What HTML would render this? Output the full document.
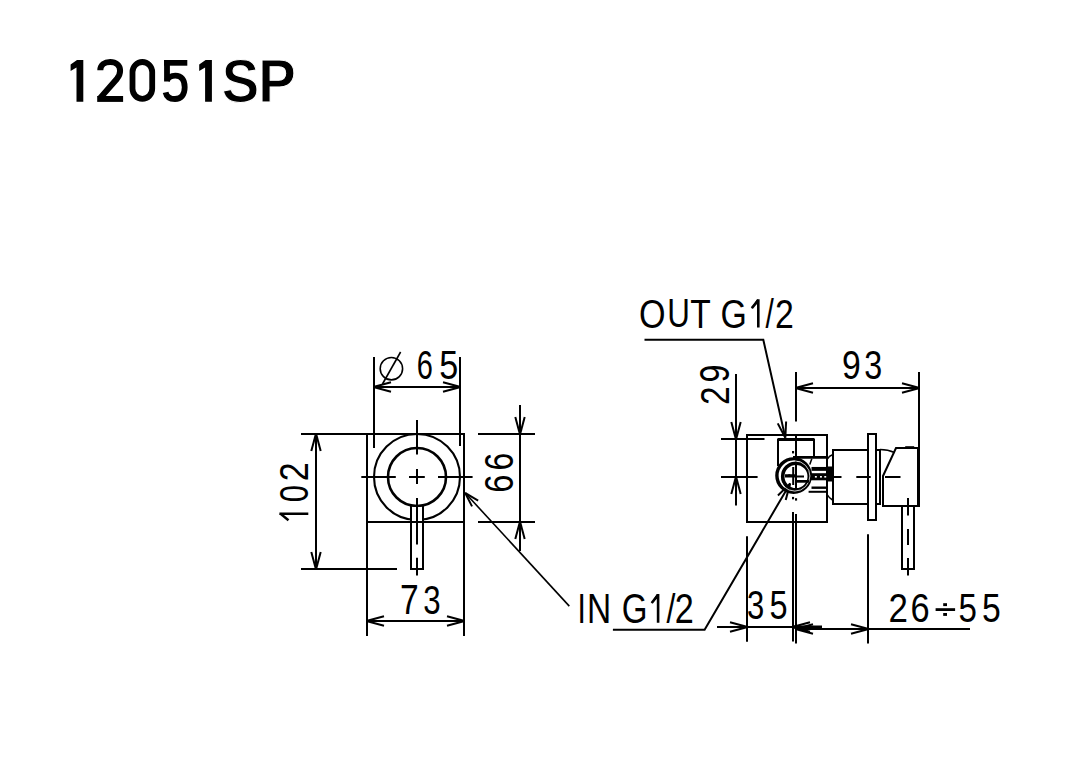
<!DOCTYPE html>
<html><head><meta charset="utf-8"><style>
html,body{margin:0;padding:0;background:#fff;width:1077px;height:765px;overflow:hidden}
svg{display:block}
text{font-family:"Liberation Sans",sans-serif;font-size:100px;fill:#000}
</style></head><body>
<svg width="1077" height="765" viewBox="0 0 1077 765">
<g stroke="#000" fill="#000" stroke-linecap="butt">
<path d="M70.6,64.5 L77,60 L83.3,60 L83.3,101.8 L76.5,101.8 L76.5,67.5 L70.6,71 Z" stroke="none"/>
<path d="M100.3,70.3 C100.3,64.6 104.5,62.1 110.15,62.1 C115.8,62.1 120.1,65.2 120.1,70.8 C120.1,74.2 119.1,76.1 117,78.7 L99.6,98.6" fill="none" stroke-width="6"/>
<rect x="97.2" y="96" width="25.9" height="5.9" stroke="none"/>
<rect x="132.5" y="62" width="19.7" height="36.8" rx="9.85" ry="10" fill="none" stroke-width="5.8"/>
<rect x="164.1" y="60" width="23.2" height="5.7" stroke="none"/><rect x="164.1" y="60" width="5.8" height="21.5" stroke="none"/>
<path d="M166.9,80.5 C168.3,77.3 171.3,75.6 175.3,75.6 C181.3,75.6 184.7,79.8 184.7,87.3 C184.7,95 180.9,99 175,99 C169.6,99 166.5,96.4 165.6,92.3" fill="none" stroke-width="5.8"/>
<path d="M199.2,64.5 L205.6,60 L211.9,60 L211.9,101.8 L205.1,101.8 L205.1,67.5 L199.2,71 Z" stroke="none"/>
<text transform="matrix(0.56082 0 0 0.61581 221.684 101.599)" font-weight="bold" stroke="#fff" stroke-width="1.700">S</text>
<text transform="matrix(0.56369 0 0 0.61629 258.329 101.800)" font-weight="bold" stroke="#fff" stroke-width="1.695">P</text>
<line x1="301" y1="434" x2="464" y2="434" stroke-width="2"/>
<line x1="367" y1="433" x2="367" y2="636" stroke-width="2"/>
<line x1="464" y1="433" x2="464" y2="636" stroke-width="2"/>
<line x1="367" y1="522" x2="464" y2="522" stroke-width="2"/>
<line x1="301" y1="569" x2="397" y2="569" stroke-width="2"/>
<line x1="316" y1="434" x2="316" y2="569" stroke-width="2"/>
<line x1="320.7" y1="451" x2="316" y2="433.4" stroke-width="2"/>
<line x1="311.3" y1="451" x2="316" y2="433.4" stroke-width="2"/>
<line x1="311.3" y1="552" x2="316" y2="569.6" stroke-width="2"/>
<line x1="320.7" y1="552" x2="316" y2="569.6" stroke-width="2"/>
<text transform="matrix(0 -0.34024 0.41390 0 308.300 481.211)" stroke="none">2</text>
<text transform="matrix(0 -0.31170 0.40819 0 307.901 502.318)" stroke="none">0</text>
<path d="M279.4,512.4 L308.3,512.4 L308.3,514.9 L279.4,514.9 Z M279.9,513.6 L287.4,520.7" stroke="none"/>
<line x1="280.3" y1="513.6" x2="288.5" y2="520.3" stroke-width="2.5"/>
<line x1="374" y1="357" x2="374" y2="448" stroke-width="2"/>
<line x1="460" y1="357" x2="460" y2="446" stroke-width="2"/>
<line x1="374" y1="387" x2="460" y2="387" stroke-width="2"/>
<line x1="391" y1="382.3" x2="373.4" y2="387" stroke-width="2"/>
<line x1="391" y1="391.7" x2="373.4" y2="387" stroke-width="2"/>
<line x1="443" y1="391.7" x2="460.6" y2="387" stroke-width="2"/>
<line x1="443" y1="382.3" x2="460.6" y2="387" stroke-width="2"/>
<circle cx="391.4" cy="368.7" r="11.2" fill="none" stroke-width="1.6"/>
<line x1="400.6" y1="352" x2="382.5" y2="384" stroke-width="1.6"/>
<text transform="matrix(0.29040 0 0 0.40254 416.825 379.407)" stroke="none">6</text>
<text transform="matrix(0.34168 0 0 0.40129 439.232 379.408)" stroke="none">5</text>
<circle cx="417" cy="477" r="43" fill="none" stroke-width="2.1"/>
<circle cx="417" cy="477" r="29" fill="none" stroke-width="2.6"/>
<line x1="361.3" y1="477" x2="395.8" y2="477" stroke-width="2"/>
<line x1="409" y1="477" x2="424.8" y2="477" stroke-width="2"/>
<line x1="438" y1="477" x2="472.6" y2="477" stroke-width="2"/>
<line x1="417" y1="420" x2="417" y2="454.5" stroke-width="2"/>
<line x1="417" y1="469" x2="417" y2="484" stroke-width="2"/>
<line x1="417" y1="498" x2="417" y2="544.4" stroke-width="2"/>
<line x1="417" y1="557.8" x2="417" y2="575.5" stroke-width="2"/>
<rect x="412" y="507" width="10" height="14" fill="#fff" stroke="none"/>
<line x1="412" y1="522" x2="422" y2="522" stroke-width="2"/>
<line x1="417" y1="498" x2="417" y2="522" stroke-width="2"/>
<polyline points="411,505 411,569 423,569 423,505" fill="none" stroke-width="2"/>
<line x1="367" y1="621" x2="464" y2="621" stroke-width="2"/>
<line x1="384" y1="616.3" x2="366.4" y2="621" stroke-width="2"/>
<line x1="384" y1="625.7" x2="366.4" y2="621" stroke-width="2"/>
<line x1="447" y1="625.7" x2="464.6" y2="621" stroke-width="2"/>
<line x1="447" y1="616.3" x2="464.6" y2="621" stroke-width="2"/>
<text transform="matrix(0.33657 0 0 0.42007 400.074 614.000)" stroke="none">7</text>
<text transform="matrix(0.31216 0 0 0.41525 423.311 613.594)" stroke="none">3</text>
<line x1="478" y1="434" x2="535" y2="434" stroke-width="2"/>
<line x1="478" y1="522" x2="535" y2="522" stroke-width="2"/>
<line x1="520" y1="405" x2="520" y2="551" stroke-width="2"/>
<line x1="515.3" y1="417" x2="520" y2="434.6" stroke-width="2"/>
<line x1="524.7" y1="417" x2="520" y2="434.6" stroke-width="2"/>
<line x1="524.7" y1="539" x2="520" y2="521.4" stroke-width="2"/>
<line x1="515.3" y1="539" x2="520" y2="521.4" stroke-width="2"/>
<text transform="matrix(0 -0.32725 0.41525 0 512.594 492.862)" stroke="none">6</text>
<text transform="matrix(0 -0.31858 0.41525 0 512.594 470.518)" stroke="none">6</text>
<line x1="465.5" y1="493.3" x2="569.3" y2="606.1" stroke-width="1.6"/>
<line x1="478.149" y1="500.624" x2="465.089" y2="492.863" stroke-width="2"/>
<line x1="472.029" y1="506.377" x2="465.089" y2="492.863" stroke-width="2"/>
<text transform="matrix(0.30023 0 0 0.42152 577.529 622.900)" stroke="none">I</text>
<text transform="matrix(0.33477 0 0 0.42152 587.054 622.900)" stroke="none">N</text>
<text transform="matrix(0.33087 0 0 0.41949 621.636 622.790)" stroke="none">G</text>
<path d="M656.8,594.1 L659.4,594.1 L659.4,622.7 L656.8,622.7 L656.8,598.676 L650.8,603.538 Z" stroke="none" fill="#000"/>
<line x1="658.1" y1="594.9" x2="651.7" y2="602.966" stroke-width="2.6" stroke-linecap="butt"/>
<text transform="matrix(0.32034 0 0 0.41532 666.400 623.094)" stroke="none">/</text>
<text transform="matrix(0.34243 0 0 0.42106 674.778 622.900)" stroke="none">2</text>
<text transform="matrix(0.34133 0 0 0.40960 638.883 327.500)" stroke="none">O</text>
<text transform="matrix(0.31345 0 0 0.41275 667.282 327.497)" stroke="none">U</text>
<text transform="matrix(0.33603 0 0 0.41134 690.245 327.600)" stroke="none">T</text>
<text transform="matrix(0.33853 0 0 0.40960 720.397 327.500)" stroke="none">G</text>
<path d="M757,299.3 L759.6,299.3 L759.6,327.6 L757,327.6 L757,303.828 L750.9,308.639 Z" stroke="none" fill="#000"/>
<line x1="758.3" y1="300.1" x2="751.8" y2="308.073" stroke-width="2.6" stroke-linecap="butt"/>
<text transform="matrix(0.29874 0 0 0.40579 765.500 327.904)" stroke="none">/</text>
<text transform="matrix(0.33804 0 0 0.41103 774.900 327.600)" stroke="none">2</text>
<polyline points="644.5,339.8 763.3,339.8 785.2,437.1" fill="none" stroke-width="2"/>
<line x1="777.723" y1="423.404" x2="785.331" y2="437.685" stroke-width="2"/>
<line x1="786.115" y1="421.523" x2="785.331" y2="437.685" stroke-width="2"/>
<polyline points="612.9,629.8 704.6,629.8 789.9,483.9" fill="none" stroke-width="2"/>
<line x1="785.715" y1="499.985" x2="790.203" y2="483.382" stroke-width="2"/>
<line x1="777.944" y1="495.445" x2="790.203" y2="483.382" stroke-width="2"/>
<line x1="736" y1="374" x2="736" y2="505.5" stroke-width="2"/>
<line x1="721" y1="439" x2="764.5" y2="439" stroke-width="2"/>
<line x1="721" y1="477" x2="757.6" y2="477" stroke-width="2"/>
<line x1="731.3" y1="422" x2="736" y2="439.6" stroke-width="2"/>
<line x1="740.7" y1="422" x2="736" y2="439.6" stroke-width="2"/>
<line x1="740.7" y1="494" x2="736" y2="476.4" stroke-width="2"/>
<line x1="731.3" y1="494" x2="736" y2="476.4" stroke-width="2"/>
<text transform="matrix(0 -0.33585 0.41390 0 728.700 404.889)" stroke="none">2</text>
<text transform="matrix(0 -0.32257 0.41666 0 728.593 382.612)" stroke="none">9</text>
<line x1="796" y1="372" x2="796" y2="421.6" stroke-width="2"/>
<line x1="919" y1="372" x2="919" y2="448" stroke-width="2"/>
<line x1="796" y1="388" x2="919" y2="388" stroke-width="2"/>
<line x1="813" y1="383.3" x2="795.4" y2="388" stroke-width="2"/>
<line x1="813" y1="392.7" x2="795.4" y2="388" stroke-width="2"/>
<line x1="902" y1="392.7" x2="919.6" y2="388" stroke-width="2"/>
<line x1="902" y1="383.3" x2="919.6" y2="388" stroke-width="2"/>
<text transform="matrix(0.33773 0 0 0.40678 841.917 379.303)" stroke="none">9</text>
<text transform="matrix(0.32270 0 0 0.40678 864.371 379.303)" stroke="none">3</text>
<polygon points="747,435 827,435 827,522 747,522" fill="none" stroke-width="2"/>
<polyline points="778,466 778,439.5 814,439.5 814,457" fill="none" stroke-width="2"/>
<line x1="778" y1="439.5" x2="814" y2="439.5" stroke-width="3"/>
<line x1="796" y1="435" x2="796" y2="489" stroke-width="2"/>
<line x1="793" y1="457.3" x2="827.4" y2="457.3" stroke-width="2.7"/>
<line x1="811.5" y1="468.9" x2="833" y2="468.9" stroke-width="3.9"/>
<rect x="811" y="473.2" width="22" height="7.1" stroke="none"/>
<rect x="814.9" y="476" width="1.9" height="1.6" fill="#fff" stroke="none"/>
<rect x="820" y="476" width="1.9" height="1.6" fill="#fff" stroke="none"/>
<rect x="824.3" y="476" width="1.9" height="1.6" fill="#fff" stroke="none"/>
<line x1="811.5" y1="487.7" x2="827.4" y2="487.7" stroke-width="2.4"/>
<line x1="808.6" y1="491.8" x2="827.4" y2="491.8" stroke-width="2"/>
<path d="M811.8,458.7 L809.8,464.6" fill="none" stroke-width="1.5"/>
<circle cx="793.6" cy="475.6" r="16.7" fill="none" stroke-width="3.4"/>
<circle cx="796" cy="476.5" r="13.3" fill="none" stroke-width="3.6"/>
<circle cx="794.8" cy="476" r="15.1" fill="none" stroke="#fff" stroke-width="0.8"/>
<path d="M785,474.2 L797,474.2 L797,475.5 L804,475.5 L804,477.5 L785,477.5 Z" stroke="none"/>
<rect x="796" y="480" width="13" height="2.7" stroke="none"/>
<rect x="792.2" y="467" width="2" height="18" stroke="none"/>
<rect x="792" y="451" width="2.1" height="2.4" stroke="none"/>
<rect x="788.3" y="474.3" width="2.1" height="2.4" stroke="none"/>
<rect x="792" y="496.9" width="2.1" height="2.4" stroke="none"/>
<rect x="795" y="498.2" width="2.1" height="2.4" stroke="none"/>
<rect x="827" y="466.5" width="6" height="15" stroke="none"/>
<path d="M827.5,459 Q829,456 832.5,454.8 M827.5,495 Q829,498 832.5,500" fill="none" stroke-width="1.5"/>
<polygon points="833,450 868,450 868,504 833,504" fill="none" stroke-width="2"/>
<polygon points="868,434 876,434 876,520 868,520" fill="none" stroke-width="2"/>
<polyline points="876,450 880,450 880,504 876,504" fill="none" stroke-width="2"/>
<path d="M880,449.5 Q888,449.5 894.5,452.5" fill="none" stroke-width="1.6"/>
<polygon points="883,476 896,448 918.5,448 918.5,506 883,506" fill="none" stroke-width="2"/>
<line x1="918.5" y1="447" x2="918.5" y2="507" stroke-width="3"/>
<rect x="905.2" y="446.2" width="9" height="1.5" stroke="none"/>
<polyline points="902,506 902,569 914,569 914,506" fill="none" stroke-width="2"/>
<line x1="908" y1="498" x2="908" y2="515.5" stroke-width="2"/>
<line x1="908" y1="529" x2="908" y2="545" stroke-width="2"/>
<line x1="908" y1="558" x2="908" y2="575.6" stroke-width="2"/>
<line x1="833" y1="477" x2="841.5" y2="477" stroke-width="2"/>
<line x1="856.3" y1="477" x2="870.7" y2="477" stroke-width="2"/>
<line x1="885" y1="477" x2="900.5" y2="477" stroke-width="2"/>
<line x1="747" y1="536.3" x2="747" y2="641.8" stroke-width="2"/>
<line x1="793" y1="512" x2="793" y2="641.6" stroke-width="2"/>
<line x1="796" y1="514" x2="796" y2="643.4" stroke-width="2"/>
<line x1="717" y1="627" x2="793" y2="627" stroke-width="2"/>
<line x1="793" y1="627" x2="822" y2="627" stroke-width="3"/>
<line x1="730" y1="631.7" x2="747.6" y2="627" stroke-width="2"/>
<line x1="730" y1="622.3" x2="747.6" y2="627" stroke-width="2"/>
<line x1="810" y1="622.3" x2="792.4" y2="627" stroke-width="2"/>
<line x1="810" y1="631.7" x2="792.4" y2="627" stroke-width="2"/>
<text transform="matrix(0.31005 0 0 0.40395 747.019 619.206)" stroke="none">3</text>
<text transform="matrix(0.32481 0 0 0.40272 769.399 619.207)" stroke="none">5</text>
<line x1="868" y1="534.3" x2="868" y2="643.4" stroke-width="2"/>
<line x1="796" y1="629" x2="970" y2="629" stroke-width="2"/>
<line x1="813" y1="624.3" x2="795.4" y2="629" stroke-width="2"/>
<line x1="813" y1="633.7" x2="795.4" y2="629" stroke-width="2"/>
<line x1="851" y1="633.7" x2="868.6" y2="629" stroke-width="2"/>
<line x1="851" y1="624.3" x2="868.6" y2="629" stroke-width="2"/>
<text transform="matrix(0.34902 0 0 0.41533 888.545 622.000)" stroke="none">2</text>
<text transform="matrix(0.34458 0 0 0.41384 910.550 621.896)" stroke="none">6</text>
<rect x="935.6" y="608.2" width="19.5" height="2.8" stroke="none"/><rect x="943.2" y="603.2" width="3.8" height="2.9" stroke="none"/><rect x="943.2" y="613" width="3.8" height="2.9" stroke="none"/>
<text transform="matrix(0.33114 0 0 0.41275 958.574 621.697)" stroke="none">5</text>
<text transform="matrix(0.33747 0 0 0.41275 981.949 621.697)" stroke="none">5</text>
</g>
</svg>
</body></html>
